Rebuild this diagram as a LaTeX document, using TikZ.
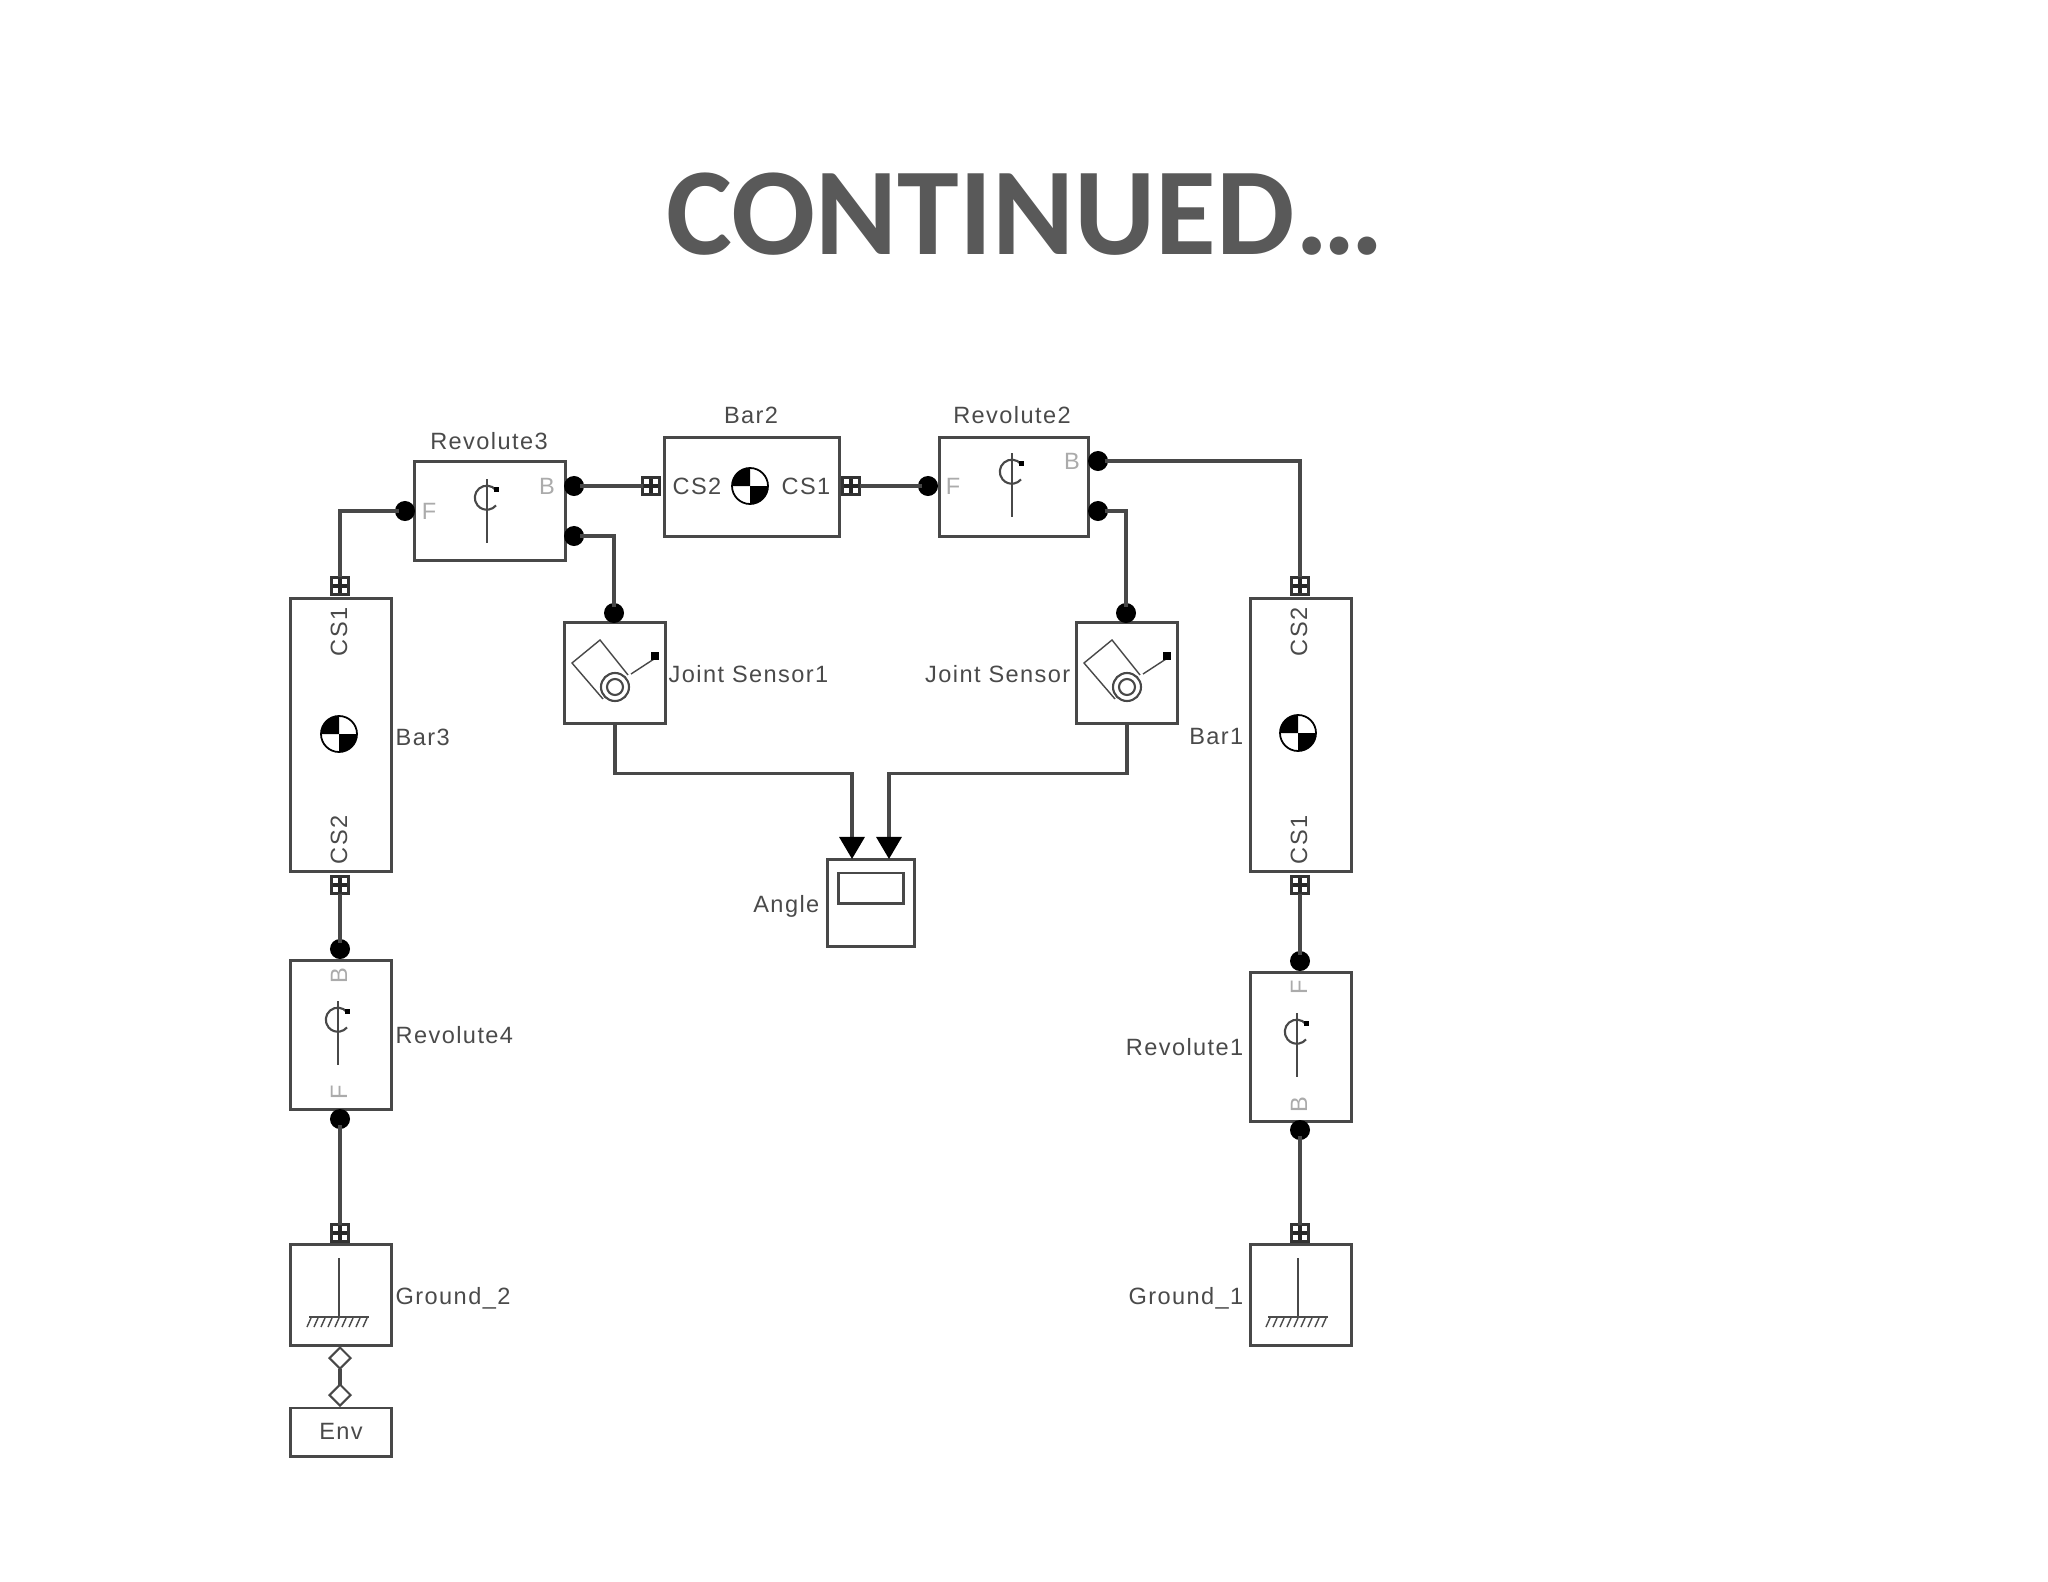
\documentclass[tikz,border=0pt]{standalone}
\usepackage{fontspec}
\usepackage{xcolor}
\usetikzlibrary{arrows.meta, shapes.geometric, positioning}
\setmainfont{Liberation Sans}
\newfontfamily\blockfont[LetterSpace=6]{Liberation Sans}
\newfontfamily\titlefont{Carlito}
\definecolor{linegray}{HTML}{484848}
\definecolor{textgray}{HTML}{4A4A4A}
\definecolor{titlegray}{HTML}{595959}
\tikzset{
    block/.style={draw=linegray, line width=0.85pt, fill=white, inner sep=0pt},
    wire/.style={draw=linegray, line width=0.9pt},
    dot/.style={circle, fill=black, inner sep=0pt, outer sep=-1pt, minimum size=0.2cm},
    port/.style={draw=black!80, fill=white, line width=0.7pt, inner sep=0pt, outer sep=0pt, minimum size=0.17cm,
        path picture={\draw[line width=0.9pt, black!85]
            (path picture bounding box.north) -- (path picture bounding box.south)
            (path picture bounding box.west) -- (path picture bounding box.east);}},
    envport/.style={diamond, draw=linegray, fill=white, line width=0.6pt, inner sep=0pt, outer sep=0pt, minimum size=0.21cm},
    txt/.style={inner sep=0pt, text=textgray, font=\blockfont\fontsize{6.7}{8}\selectfont},
    faint/.style={txt, text=black!33},
    revicon/.pic={
        \draw[linegray, line width=0.7pt] (0,-18) -- (0,46);
        \draw[linegray, line width=0.6pt] (9,-7) arc[start angle=-40, end angle=-320, radius=12];
        \fill[black] (7,-10) rectangle (12,-5);
    },
    cgicon/.pic={
        \draw[black, line width=0.5pt, fill=white] (0,0) circle[radius=18];
        \fill[black] (0,0) -- (-18,0) arc[start angle=180, end angle=270, radius=18] -- cycle;
        \fill[black] (0,0) -- (18,0) arc[start angle=0, end angle=90, radius=18] -- cycle;
    },
    sensoricon/.pic={
        \draw[linegray, line width=0.4pt] (-11,26) -- (-42,-10) -- (-14,-33) -- (14,2);
        \draw[linegray, line width=0.6pt] (1,14) circle[radius=14] (1,14) circle[radius=8];
        \draw[linegray, line width=0.4pt] (17,1) -- (40,-14);
        \fill[black] (37,-21) rectangle (45,-13);
    },
    groundicon/.pic={
        \draw[linegray, line width=0.8pt] (0,0) -- (0,59);
        \draw[black!70, line width=0.4pt] (-30,59) -- (30,59);
        \foreach \t in {-28,-21,...,28} {
            \draw[black!70, line width=0.4pt] (\t,60) -- ({\t-4},69);
        }
    }
}

\begin{document}
\begin{tikzpicture}[x=0.01cm, y=-0.01cm, >={Triangle[length=2.2mm, width=2.5mm, color=black]}]
    \useasboundingbox (0,0) rectangle (2048,1582);
    % 1. Title
    \node[inner sep=0pt, text=titlegray, font=\titlefont\bfseries\fontsize{35.4}{40}\selectfont] (title) at (1025,214) {CONTINUED…};

    % 2. Blocks
    \node[block, minimum width=1.50cm, minimum height=0.99cm] (rev3) at (490,511) {};
    \node[block, minimum width=1.74cm, minimum height=0.98cm] (bar2) at (752,487) {};
    \node[block, minimum width=1.49cm, minimum height=0.98cm] (rev2) at (1014,487) {};
    \node[block, minimum width=1.01cm, minimum height=2.73cm] (bar3) at (341,735) {};
    \node[block, minimum width=1.01cm, minimum height=2.73cm] (bar1) at (1301,735) {};
    \node[block, minimum width=1.01cm, minimum height=1.00cm] (sens1) at (615,673) {};
    \node[block, minimum width=1.01cm, minimum height=1.00cm] (sens2) at (1127,673) {};
    \node[block, minimum width=0.87cm, minimum height=0.87cm] (angle) at (871,903) {};
    \node[block, minimum width=0.64cm, minimum height=0.30cm] (screen) at (871,888) {};
    \node[block, minimum width=1.01cm, minimum height=1.49cm] (rev4) at (341,1035) {};
    \node[block, minimum width=1.01cm, minimum height=1.49cm] (rev1) at (1301,1047) {};
    \node[block, minimum width=1.01cm, minimum height=1.00cm] (gnd2) at (341,1295) {};
    \node[block, minimum width=1.01cm, minimum height=1.00cm] (gnd1) at (1301,1295) {};
    \node[block, minimum width=1.01cm, minimum height=0.48cm] (env) at (341,1432) {};

    % 3. Ports
    \node[port] (bar3top) at (340,586) {};
    \node[port] (bar3bot) at (340,885) {};
    \node[port] (bar1top) at (1300,586) {};
    \node[port] (bar1bot) at (1300,885) {};
    \node[port] (bar2left) at (651,486) {};
    \node[port] (bar2right) at (851,486) {};
    \node[port] (gnd2top) at (340,1233) {};
    \node[port] (gnd1top) at (1300,1233) {};
    \node[envport] (gnd2env) at (340,1358) {};
    \node[envport] (envtop) at (340,1395) {};
    \node[dot] (rev3F) at (405,511) {};
    \node[dot] (rev3B) at (574,486) {};
    \node[dot] (rev3S) at (574,536) {};
    \node[dot] (rev2F) at (928,486) {};
    \node[dot] (rev2B) at (1098,461) {};
    \node[dot] (rev2S) at (1098,511) {};
    \node[dot] (sens1in) at (614,613) {};
    \node[dot] (sens2in) at (1126,613) {};
    \node[dot] (rev4B) at (340,949) {};
    \node[dot] (rev4F) at (340,1119) {};
    \node[dot] (rev1F) at (1300,961) {};
    \node[dot] (rev1B) at (1300,1130) {};
    \coordinate (angleA) at (852,859);
    \coordinate (angleB) at (889,859);

    % 4. Connectors
    \draw[wire] (rev3F) -| (bar3top);
    \draw[wire] (rev3B) -- (bar2left);
    \draw[wire] (bar2right) -- (rev2F);
    \draw[wire] (rev3S) -| (sens1in);
    \draw[wire] (rev2S) -| (sens2in);
    \draw[wire] (rev2B) -| (bar1top);
    \draw[wire] (bar3bot) -- (rev4B);
    \draw[wire] (rev4F) -- (gnd2top);
    \draw[wire] (bar1bot) -- (rev1F);
    \draw[wire] (rev1B) -- (gnd1top);
    \draw[wire] (gnd2env) -- (envtop);
    \draw[wire, ->] (sens1.south) -- ++(0,49) -| (angleA);
    \draw[wire, ->] (sens2.south) -- ++(0,49) -| (angleB);

    % 5. Icons
    \pic at (487,497) {revicon};
    \pic at (1012,471) {revicon};
    \pic at (338,1019) {revicon};
    \pic at (1297,1031) {revicon};
    \pic at (750,486) {cgicon};
    \pic at (339,734) {cgicon};
    \pic at (1298,733) {cgicon};
    \pic at (614,673) {sensoricon};
    \pic at (1126,673) {sensoricon};
    \pic at (339,1258) {groundicon};
    \pic at (1298,1258) {groundicon};

    % 6. Labels inside the blocks
    \node[faint] (rev3Ft) at (429,511) {F};
    \node[faint] (rev3Bt) at (547,486) {B};
    \node[faint] (rev2Ft) at (953,486) {F};
    \node[faint] (rev2Bt) at (1072,461) {B};
    \node[faint, rotate=90] (rev4Bt) at (339,976) {B};
    \node[faint, rotate=90] (rev4Ft) at (339,1092) {F};
    \node[faint, rotate=90] (rev1Ft) at (1299,987) {F};
    \node[faint, rotate=90] (rev1Bt) at (1299,1105) {B};
    \node[txt] (bar2cs2) at (697,486) {CS2};
    \node[txt] (bar2cs1) at (806,486) {CS1};
    \node[txt, rotate=90] (bar3cs1) at (339,632) {CS1};
    \node[txt, rotate=90] (bar3cs2) at (339,840) {CS2};
    \node[txt, rotate=90] (bar1cs2) at (1299,632) {CS2};
    \node[txt, rotate=90] (bar1cs1) at (1299,840) {CS1};
    \node[txt] (envname) at (341,1431) {Env};

    % 7. Block names
    \node[txt] (rev3name) at (489,441) {Revolute3};
    \node[txt] (bar2name) at (751,415) {Bar2};
    \node[txt] (rev2name) at (1012,415) {Revolute2};
    \node[txt, anchor=west] (sens1name) at (668,674) {Joint Sensor1};
    \node[txt, anchor=east] (sens2name) at (1071,674) {Joint Sensor};
    \node[txt, anchor=west] (bar3name) at (395,737) {Bar3};
    \node[txt, anchor=east] (bar1name) at (1244,737) {Bar1};
    \node[txt, anchor=east] (anglename) at (820,906) {Angle};
    \node[txt, anchor=west] (rev4name) at (395,1035) {Revolute4};
    \node[txt, anchor=east] (rev1name) at (1244,1047) {Revolute1};
    \node[txt, anchor=west] (gnd2name) at (395,1298) {Ground\_2};
    \node[txt, anchor=east] (gnd1name) at (1244,1298) {Ground\_1};
\end{tikzpicture}
\end{document}
